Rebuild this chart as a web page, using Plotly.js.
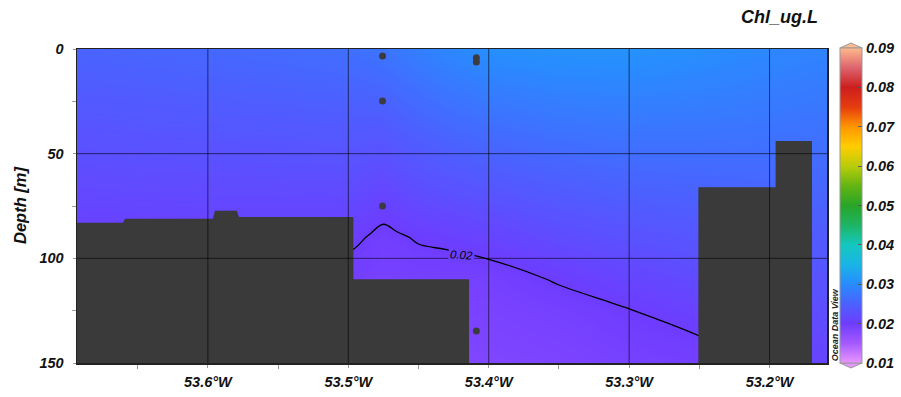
<!DOCTYPE html>
<html>
<head>
<meta charset="utf-8">
<script src="https://cdn.plot.ly/plotly-3.0.1.min.js"></script>
<style>
  html, body { margin: 0; padding: 0; background: #ffffff; }
  #chart { width: 901px; height: 397px; }
</style>
</head>
<body>
<div id="chart"></div>
<script>
// Chlorophyll section (ug/L) along the transect, depth vs longitude.

// Gridded field: one profile per longitude, values at gridDepth (m)
const gridLon = [-53.70, -53.60, -53.52, -53.497, -53.485, -53.475, -53.465, -53.45, -53.43, -53.40, -53.35, -53.30, -53.25, -53.20, -53.15];
const gridDepth = [0, 25, 50, 70, 80, 90, 100, 110, 125, 140, 150];
const chlProfiles = [
  [0.0252, 0.0239,  0.0226,  0.02154, 0.02102, 0.02051, 0.0200,  0.0197,  0.01925, 0.0188,  0.0185],
  [0.0258, 0.02435, 0.0229,  0.02175, 0.02116, 0.02058, 0.0200,  0.0197,  0.01925, 0.0188,  0.0185],
  [0.0264, 0.02475, 0.02312, 0.02182, 0.02117, 0.02051, 0.01994, 0.01964, 0.01919, 0.01874, 0.01844],
  [0.0267, 0.02493, 0.02318, 0.02176, 0.02105, 0.02035, 0.01975, 0.0195,  0.01905, 0.0186,  0.0183],
  [0.0270, 0.02501, 0.02302, 0.02143, 0.02064, 0.0199,  0.0196,  0.0193,  0.01885, 0.0184,  0.0181],
  [0.0273, 0.02509, 0.02288, 0.02111, 0.02022, 0.01963, 0.0194,  0.0191,  0.0187,  0.0183,  0.0180],
  [0.0278, 0.02556, 0.02332, 0.02152, 0.02063, 0.01978, 0.0195,  0.0193,  0.01885, 0.0184,  0.0181],
  [0.0285, 0.02620, 0.02390, 0.02206, 0.02110, 0.02017, 0.01963, 0.01935, 0.0189,  0.01845, 0.01815],
  [0.0294, 0.02695, 0.02450, 0.02250, 0.02150, 0.0205,  0.01965, 0.0194,  0.01905, 0.0186,  0.0183],
  [0.0303, 0.02773, 0.02515, 0.02310, 0.02207, 0.02105, 0.02003, 0.0193,  0.0189,  0.0186,  0.0184],
  [0.0308, 0.02838, 0.02596, 0.02402, 0.02305, 0.02208, 0.02111, 0.02015, 0.01933, 0.0189,  0.0186],
  [0.0308, 0.02861, 0.02643, 0.02468, 0.0238,  0.02293, 0.02206, 0.02118, 0.01993, 0.0195,  0.0192],
  [0.0303, 0.02841, 0.02651, 0.0250,  0.02424, 0.02348, 0.02273, 0.02197, 0.02083, 0.0198,  0.0195],
  [0.0295, 0.0280,  0.02649, 0.02529, 0.02469, 0.02409, 0.02349, 0.02289, 0.02198, 0.02108, 0.02048],
  [0.0288, 0.02754, 0.02629, 0.02528, 0.02478, 0.02427, 0.02377, 0.02327, 0.02251, 0.02176, 0.02126]
];

// Isoline drawn through the field, and where its label sits (lon, depth)
const contourLevel = 0.02;
const contourLabelLon = -53.4192;
const contourLabelDepth = 98.4;

// Sample positions (station longitude, sample depth)
const sampleLon = [-53.4756, -53.4756, -53.4756, -53.4088, -53.4088, -53.4088];
const sampleDepth = [3.3, 24.8, 75, 4.2, 6.2, 134.7];

// Bottom topography outlines (longitude, depth), closed at the section floor
const westBottomLon = [-53.70, -53.6605, -53.6590, -53.5964, -53.5950, -53.5794, -53.5779, -53.4964, -53.4964, -53.4140];
const westBottomDepth = [83.0, 83.0, 81.1, 81.1, 77.3, 77.3, 80.3, 80.3, 110.0, 110.0];
const eastBottomLon = [-53.2507, -53.1957, -53.1957, -53.1698];
const eastBottomDepth = [66.1, 66.1, 44.0, 44.0];
const floorDepth = 150;

// Axis ticks
const lonTicks = [-53.6, -53.5, -53.4, -53.3, -53.2];
const lonTickText = ['53.6°W', '53.5°W', '53.4°W', '53.3°W', '53.2°W'];
const lonMinorTicks = [-53.65, -53.55, -53.45, -53.35, -53.25, -53.15];
const depthTicks = [0, 50, 100, 150];
const depthMinorTicks = [25, 75, 125];
const cbarTicks = [0.01, 0.02, 0.03, 0.04, 0.05, 0.06, 0.07, 0.08, 0.09];

const FONT = 'Liberation Sans, Arial, Helvetica, sans-serif';
const bi = (size, color) => ({ family: FONT, size: size, color: color || '#111', weight: 'bold', style: 'italic' });

// ODV-style palette over 0.01 .. 0.09
const odvScale = [
  [0.0,    'rgb(232,150,255)'],
  [0.0625, 'rgb(165,90,255)'],
  [0.125,  'rgb(110,60,255)'],
  [0.1875, 'rgb(75,97,255)'],
  [0.25,   'rgb(40,140,255)'],
  [0.3125, 'rgb(25,180,230)'],
  [0.375,  'rgb(20,200,190)'],
  [0.4375, 'rgb(30,180,100)'],
  [0.5,    'rgb(40,165,40)'],
  [0.5625, 'rgb(100,180,20)'],
  [0.625,  'rgb(185,205,10)'],
  [0.6875, 'rgb(255,205,0)'],
  [0.75,   'rgb(255,150,0)'],
  [0.8125, 'rgb(230,60,15)'],
  [0.875,  'rgb(205,30,30)'],
  [0.9375, 'rgb(220,100,110)'],
  [1.0,    'rgb(255,185,140)']
];

function closedOutline(lons, depths) {
  const x = lons.slice(), y = depths.slice();
  x.push(lons[lons.length - 1], lons[0]);
  y.push(floorDepth, floorDepth);
  return { x: x, y: y };
}
const west = closedOutline(westBottomLon, westBottomDepth);
const east = closedOutline(eastBottomLon, eastBottomDepth);

const TERRAIN = '#3a3a3a';
const GRID = 'rgba(0,0,0,0.6)';

const traces = [
  {
    type: 'heatmap',
    x: gridLon, y: gridDepth, z: chlProfiles, transpose: true,
    zsmooth: 'best', zmin: 0.01, zmax: 0.09, colorscale: odvScale,
    hoverinfo: 'skip',
    colorbar: {
      x: 1.01733, xanchor: 'left', xpad: 0,
      y: 0, yanchor: 'bottom', ypad: 0,
      thickness: 22, thicknessmode: 'pixels',
      len: 315, lenmode: 'pixels',
      outlinewidth: 1, outlinecolor: '#999',
      ticks: 'inside', ticklen: 4, tickcolor: '#555',
      tickmode: 'array', tickvals: cbarTicks,
      ticktext: cbarTicks.map(v => v.toFixed(2)),
      tickfont: bi(14.5)
    }
  },
  {
    type: 'contour',
    x: gridLon, y: gridDepth, z: chlProfiles, transpose: true,
    autocontour: false,
    contours: { coloring: 'lines', start: contourLevel, end: contourLevel, size: 0.01, showlabels: false },
    colorscale: [[0, '#000'], [1, '#000']],
    line: { width: 1.3, smoothing: 1 },
    showscale: false, hoverinfo: 'skip'
  },
  {
    type: 'scatter', mode: 'lines', x: west.x, y: west.y,
    fill: 'toself', fillcolor: TERRAIN, line: { width: 0, color: TERRAIN },
    hoverinfo: 'skip', showlegend: false
  },
  {
    type: 'scatter', mode: 'lines', x: east.x, y: east.y,
    fill: 'toself', fillcolor: TERRAIN, line: { width: 0, color: TERRAIN },
    hoverinfo: 'skip', showlegend: false
  },
  {
    type: 'scatter', mode: 'markers', x: sampleLon, y: sampleDepth,
    marker: { size: 7, color: '#3c3c40' },
    hoverinfo: 'skip', showlegend: false
  }
];

// Grid lines drawn over the section and the bottom topography
const gridShapes = lonTicks.map(v => ({
  type: 'line', layer: 'above', xref: 'x', yref: 'paper', x0: v, x1: v, y0: 0, y1: 1,
  line: { color: GRID, width: 1 }
})).concat(depthTicks.slice(1, -1).map(v => ({
  type: 'line', layer: 'above', xref: 'paper', yref: 'y', x0: 0, x1: 1, y0: v, y1: v,
  line: { color: GRID, width: 1 }
})));

const layout = {
  width: 901, height: 397,
  margin: { l: 77, r: 74, t: 49, b: 34, autoexpand: false },
  paper_bgcolor: '#ffffff', plot_bgcolor: '#ffffff',
  showlegend: false,
  font: { family: FONT },
  xaxis: {
    range: [-53.6932, -53.1591], layer: 'above traces',
    tickmode: 'array', tickvals: lonTicks, ticktext: lonTickText,
    tickfont: bi(14.5), ticks: 'outside', ticklen: 3, tickcolor: '#999',
    ticklabelstandoff: 2,
    showgrid: false,
    minor: { tickmode: 'array', tickvals: lonMinorTicks, ticks: 'outside', ticklen: 4, tickcolor: '#999', showgrid: false },
    showline: true, mirror: true, linecolor: '#222', linewidth: 1.5,
    zeroline: false
  },
  yaxis: {
    range: [150, 0], layer: 'above traces',
    tickmode: 'array', tickvals: depthTicks,
    tickfont: bi(14.5), ticks: 'outside', ticklen: 3, tickcolor: '#999',
    ticklabelstandoff: 6,
    showgrid: false,
    minor: { tickmode: 'array', tickvals: depthMinorTicks, ticks: 'outside', ticklen: 4, tickcolor: '#999', showgrid: false },
    showline: true, mirror: true, linecolor: '#222', linewidth: 1.5,
    zeroline: false
  },
  annotations: [
    { text: 'Chl_ug.L', xref: 'paper', yref: 'paper', x: 0.9373, y: 1.102,
      xanchor: 'center', yanchor: 'middle', showarrow: false, font: bi(18) },
    { text: 'Depth [m]', xref: 'paper', yref: 'paper', x: -0.076, y: 0.5,
      xanchor: 'center', yanchor: 'middle', textangle: -90, showarrow: false, font: bi(16.5) },
    { text: 'Ocean Data View', xref: 'paper', yref: 'paper', x: 1.0107, y: 0.12,
      xanchor: 'center', yanchor: 'middle', textangle: -90, showarrow: false, font: bi(9, '#222') },
    // isoline label, cutting a short gap in the line
    { text: contourLevel.toFixed(2), xref: 'x', yref: 'y', x: contourLabelLon, y: contourLabelDepth,
      xanchor: 'center', yanchor: 'middle', textangle: 4, showarrow: false,
      bgcolor: 'rgb(108,63,255)', borderpad: 1,
      font: { family: FONT, size: 11.5, color: '#000', style: 'italic' } }
  ],
  shapes: gridShapes.concat([
    // pointed ends of the colour bar
    { type: 'path', xref: 'paper', yref: 'paper',
      path: 'M 1.01733 1.0032 L 1.032 1.0191 L 1.04667 1.0032 Z',
      fillcolor: 'rgb(255,185,140)', line: { color: '#999', width: 1 } },
    { type: 'path', xref: 'paper', yref: 'paper',
      path: 'M 1.01733 0 L 1.032 -0.0159 L 1.04667 0 Z',
      fillcolor: 'rgb(232,150,255)', line: { color: '#999', width: 1 } }
  ])
};

Plotly.newPlot('chart', traces, layout, { staticPlot: true, displayModeBar: false });
</script>
</body>
</html>
